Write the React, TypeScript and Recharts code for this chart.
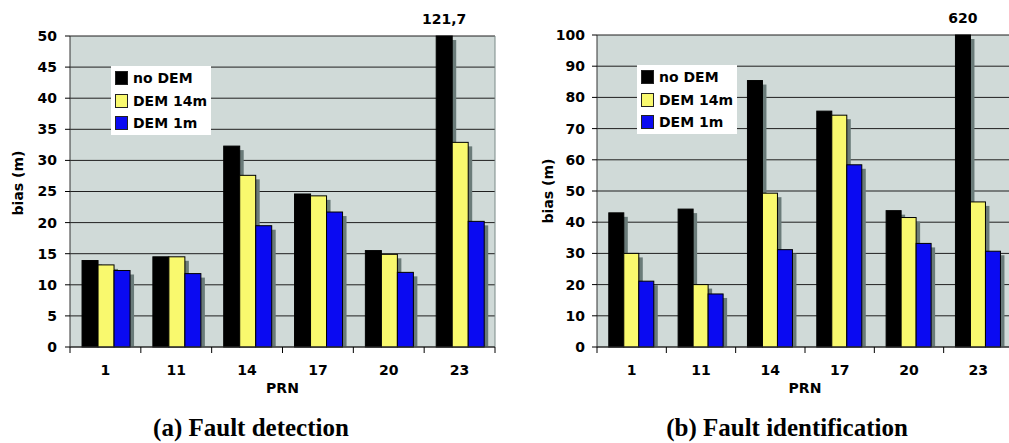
import React from 'react';
import { BarChart, Bar, XAxis, YAxis, CartesianGrid, Legend, LabelList, Label } from 'recharts';

const prn = ['1', '11', '14', '17', '20', '23'];

const detectionNoDem = [13.9, 14.5, 32.3, 24.6, 15.5, 121.7];
const detectionDem14 = [13.2, 14.5, 27.6, 24.3, 14.9, 32.9];
const detectionDem1 = [12.3, 11.8, 19.5, 21.7, 12.0, 20.2];

const identificationNoDem = [43.0, 44.2, 85.4, 75.6, 43.7, 620];
const identificationDem14 = [30.0, 20.0, 49.3, 74.3, 41.5, 46.5];
const identificationDem1 = [21.1, 17.0, 31.2, 58.4, 33.2, 30.7];

const detectionTicks = [0, 5, 10, 15, 20, 25, 30, 35, 40, 45, 50];
const identificationTicks = [0, 10, 20, 30, 40, 50, 60, 70, 80, 90, 100];

const seriesKeys = ['noDem', 'dem14', 'dem1'];
const seriesNames = ['no DEM', 'DEM 14m', 'DEM 1m'];
const seriesColors = ['#000000', '#F9F96E', '#0A0AF2'];

const FONT = '"DejaVu Sans", Verdana, sans-serif';
const FS = 14;
const H = 443;
const X_AXIS_H = 30;

function buildRows(noDem: number[], dem14: number[], dem1: number[], max: number) {
  return prn.map((p, i) => ({
    prn: p,
    noDem: Math.min(noDem[i], max),
    dem14: Math.min(dem14[i], max),
    dem1: Math.min(dem1[i], max),
    noDemLabel: noDem[i] > max ? String(noDem[i]).replace('.', ',') : '',
  }));
}

const ShadowBar = (props: any) => {
  const { x, y, width, height, fill } = props;
  if (!height || height <= 0) return null;
  const d = 4;
  return (
    <g>
      <rect x={x + d} y={y + d} width={width} height={Math.max(height - d, 0)} fill="#6A7B79" />
      <rect x={x} y={y} width={width} height={height} fill={fill} stroke="#000" strokeWidth={1} />
    </g>
  );
};

const LegendBox = ({ payload }: any) => {
  const items = [...(payload || [])].sort(
    (a: any, b: any) => seriesNames.indexOf(a.value) - seriesNames.indexOf(b.value)
  );
  return (
    <div
      style={{
        background: '#ffffff',
        width: 100,
        height: 69,
        boxSizing: 'border-box',
        paddingTop: 1,
        paddingLeft: 4,
        fontFamily: FONT,
        fontWeight: 'bold',
        fontSize: FS,
        color: '#000',
      }}
    >
      {items.map((e: any) => (
        <div key={e.value} style={{ display: 'flex', alignItems: 'center', height: 22.5, whiteSpace: 'nowrap' }}>
          <span
            style={{
              display: 'inline-block',
              width: 11,
              height: 12,
              background: e.color,
              border: '1px solid #222',
              marginRight: 5,
            }}
          />
          <span>{e.value}</span>
        </div>
      ))}
    </div>
  );
};

type PanelProps = {
  left: number;
  width: number;
  top: number;
  yAxisWidth: number;
  ticks: number[];
  max: number;
  rows: any[];
  legendLeft: number;
  legendTop: number;
  caption: string;
  captionCenter: number;
  yLabelX: number;
  yLabelY: number;
  tickMargin: number;
};

const Panel = (p: PanelProps) => {
  const marginLeft = 10;
  const marginRight = 10;
  const marginBottom = 66;
  const plotLeft = marginLeft + p.yAxisWidth;
  const plotWidth = p.width - marginRight - plotLeft;
  const plotBottom = H - marginBottom - X_AXIS_H;
  const n = prn.length;
  const band = plotWidth / n;

  const XTick = (props: any) => {
    const { x, payload, index } = props;
    const l = x - band / 2;
    const r = x + band / 2;
    return (
      <g>
        <line x1={l} x2={l} y1={plotBottom} y2={plotBottom + 6} stroke="#000" />
        {index === n - 1 && <line x1={r} x2={r} y1={plotBottom} y2={plotBottom + 6} stroke="#000" />}
        <text
          x={x}
          y={plotBottom + 28}
          textAnchor="middle"
          fontFamily={FONT}
          fontWeight="bold"
          fontSize={FS}
          fill="#000"
        >
          {payload.value}
        </text>
      </g>
    );
  };

  return (
    <div style={{ position: 'absolute', left: p.left, top: 0 }}>
      <BarChart
        width={p.width}
        height={H}
        data={p.rows}
        margin={{ top: p.top, right: marginRight, left: marginLeft, bottom: marginBottom }}
        barCategoryGap="17%"
        barGap={0}
      >
        <CartesianGrid
          vertical={false}
          stroke="#1f1f1f"
          strokeOpacity={1}
          fill="#D0DAD8"
          fillOpacity={1}
          horizontalValues={p.ticks}
        />
        <CartesianGrid
          horizontal={false}
          stroke="#7A8A88"
          verticalCoordinatesGenerator={({ offset }: any) => [offset.left + offset.width]}
        />
        <XAxis
          dataKey="prn"
          height={X_AXIS_H}
          interval={0}
          tickLine={false}
          axisLine={{ stroke: '#333' }}
          tick={<XTick />}
        >
          <Label
            content={() => (
              <text
                x={plotLeft + plotWidth / 2}
                y={plotBottom + 46}
                textAnchor="middle"
                fontFamily={FONT}
                fontWeight="bold"
                fontSize={FS}
                fill="#000"
              >
                PRN
              </text>
            )}
          />
        </XAxis>
        <YAxis
          width={p.yAxisWidth}
          domain={[0, p.max]}
          ticks={p.ticks}
          interval={0}
          tickSize={5}
          tickMargin={p.tickMargin}
          axisLine={{ stroke: '#333' }}
          tickLine={{ stroke: '#000' }}
          tick={{ fontFamily: FONT, fontWeight: 'bold', fontSize: FS, fill: '#000' }}
        >
          <Label
            content={() => (
              <text
                x={p.yLabelX}
                y={p.yLabelY}
                transform={`rotate(-90, ${p.yLabelX}, ${p.yLabelY})`}
                textAnchor="middle"
                dominantBaseline="central"
                fontFamily={FONT}
                fontWeight="bold"
                fontSize={FS}
                fill="#000"
              >
                bias (m)
              </text>
            )}
          />
        </YAxis>
        <Legend
          layout="horizontal"
          verticalAlign="middle"
          align="center"
          content={<LegendBox />}
          wrapperStyle={{ left: p.legendLeft, top: p.legendTop, width: 'auto', height: 'auto' }}
        />
        {seriesKeys.map((k, i) => (
          <Bar
            key={k}
            dataKey={k}
            name={seriesNames[i]}
            fill={seriesColors[i]}
            isAnimationActive={false}
            shape={<ShadowBar />}
          >
            {k === 'noDem' && (
              <LabelList
                dataKey="noDemLabel"
                position="top"
                offset={12}
                style={{ fontFamily: FONT, fontWeight: 'bold', fontSize: FS, fill: '#000' }}
              />
            )}
          </Bar>
        ))}
      </BarChart>
      <div
        style={{
          position: 'absolute',
          top: 416,
          left: p.captionCenter - 200,
          width: 400,
          textAlign: 'center',
          fontFamily: '"Liberation Serif", "Times New Roman", serif',
          fontWeight: 'bold',
          fontSize: 25,
          lineHeight: '24px',
          color: '#000',
          whiteSpace: 'nowrap',
        }}
      >
        {p.caption}
      </div>
    </div>
  );
};

export default function App() {
  const detectionRows = buildRows(detectionNoDem, detectionDem14, detectionDem1, 50);
  const identificationRows = buildRows(identificationNoDem, identificationDem14, identificationDem1, 100);
  return (
    <div
      style={{
        position: 'absolute',
        left: 0,
        top: 0,
        width: 1009,
        height: 443,
        overflow: 'hidden',
        background: '#fff',
      }}
    >
      <Panel
        left={0}
        width={505}
        top={36}
        yAxisWidth={60}
        ticks={detectionTicks}
        max={50}
        rows={detectionRows}
        legendLeft={111}
        legendTop={66}
        caption="(a) Fault detection"
        captionCenter={251}
        yLabelX={18}
        yLabelY={183}
        tickMargin={8}
      />
      <Panel
        left={510}
        width={513}
        top={35}
        yAxisWidth={77}
        ticks={identificationTicks}
        max={100}
        rows={identificationRows}
        legendLeft={127}
        legendTop={65}
        caption="(b) Fault identification"
        captionCenter={277}
        yLabelX={38}
        yLabelY={191}
        tickMargin={7}
      />
    </div>
  );
}
